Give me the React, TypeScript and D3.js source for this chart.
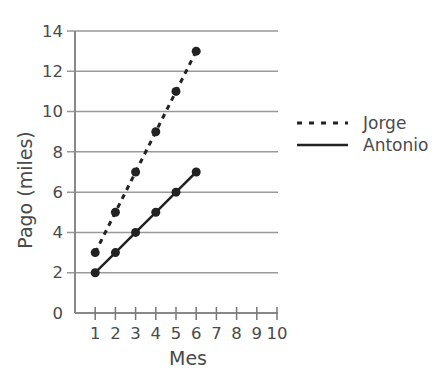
import React from "react";
import * as d3 from "d3";

const months = [1, 2, 3, 4, 5, 6];
const jorge = [3, 5, 7, 9, 11, 13];
const antonio = [2, 3, 4, 5, 6, 7];
const yTicks = [0, 2, 4, 6, 8, 10, 12, 14];
const xTicks = [1, 2, 3, 4, 5, 6, 7, 8, 9, 10];

export default function App() {
  const W = 443, H = 379;
  const x = d3.scaleLinear().domain([0, 10]).range([75, 277]);
  const y = d3.scaleLinear().domain([0, 14]).range([313, 31]);
  const line = d3.line<number>().x((_, i) => x(months[i])).y((d) => y(d));
  const font = "DejaVu Sans, Verdana, sans-serif";
  const gray = "#4a4a4a";
  return (
    <svg width={W} height={H} style={{ position: "absolute", left: 0, top: 0, background: "#fff" }}>
      {yTicks.filter((t) => t > 0).map((t) => (
        <line key={"g" + t} x1={67} x2={278} y1={y(t)} y2={y(t)} stroke="#999" strokeWidth={1.5} />
      ))}
      <line x1={75} x2={75} y1={y(14)} y2={y(0)} stroke="#888" strokeWidth={2} />
      <line x1={75} x2={278} y1={y(0)} y2={y(0)} stroke="#888" strokeWidth={2} />
      {xTicks.map((t) => (
        <line key={"xt" + t} x1={x(t)} x2={x(t)} y1={307} y2={320} stroke="#777" strokeWidth={1.5} />
      ))}
      {yTicks.map((t) => (
        <text key={"yl" + t} x={63} y={y(t)} dy="0.35em" textAnchor="end" fontFamily={font} fontSize={16.5} fill={gray}>{t}</text>
      ))}
      {xTicks.map((t) => (
        <text key={"xl" + t} x={x(t)} y={333} dy="0.35em" textAnchor="middle" fontFamily={font} fontSize={16.5} fill={gray}>{t}</text>
      ))}
      <text x={188} y={358} dy="0.35em" textAnchor="middle" fontFamily={font} fontSize={19} fill={gray}>Mes</text>
      <text transform="translate(25,190) rotate(-90)" dy="0.35em" textAnchor="middle" fontFamily={font} fontSize={19} fill={gray}>Pago (miles)</text>
      <path d={line(jorge) || ""} fill="none" stroke="#222" strokeWidth={3} strokeDasharray="5,5" />
      <path d={line(antonio) || ""} fill="none" stroke="#222" strokeWidth={2.5} />
      {jorge.map((v, i) => (
        <circle key={"j" + i} cx={x(months[i])} cy={y(v)} r={4.5} fill="#222" />
      ))}
      {antonio.map((v, i) => (
        <circle key={"a" + i} cx={x(months[i])} cy={y(v)} r={4.5} fill="#222" />
      ))}
      <line x1={297} x2={348} y1={123} y2={123} stroke="#222" strokeWidth={3} strokeDasharray="5,7" />
      <line x1={297} x2={348} y1={145} y2={145} stroke="#222" strokeWidth={2.5} />
      <text x={363} y={123} dy="0.35em" fontFamily={font} fontSize={17} fill={gray}>Jorge</text>
      <text x={363} y={145} dy="0.35em" fontFamily={font} fontSize={17} fill={gray}>Antonio</text>
    </svg>
  );
}
